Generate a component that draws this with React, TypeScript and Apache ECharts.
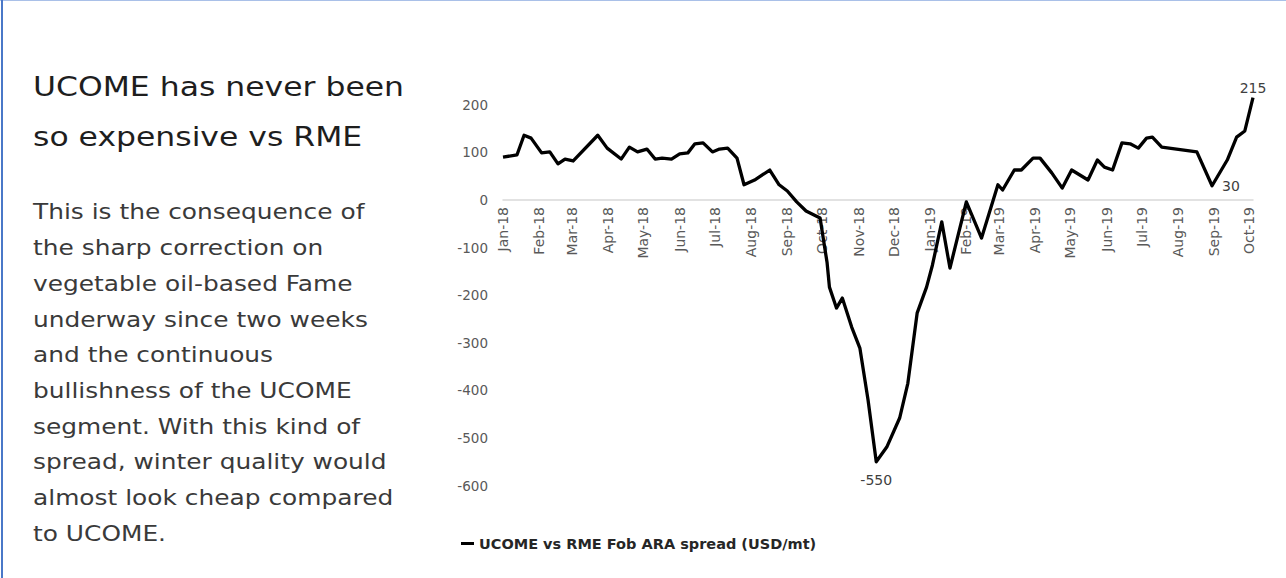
import React, { useEffect, useRef } from "react";
import * as echarts from "echarts";

// ---- data ----
const dates = [
  "2018-01-01", "2018-01-13", "2018-01-19", "2018-01-25", "2018-02-03", "2018-02-10", "2018-02-17", "2018-02-23",
  "2018-03-02", "2018-03-23", "2018-03-31", "2018-04-12", "2018-04-19", "2018-04-26", "2018-05-04", "2018-05-11",
  "2018-05-17", "2018-05-25", "2018-06-01", "2018-06-08", "2018-06-14", "2018-06-21", "2018-06-29", "2018-07-05",
  "2018-07-12", "2018-07-20", "2018-07-26", "2018-08-04", "2018-08-17", "2018-08-25", "2018-09-01", "2018-09-09",
  "2018-09-17", "2018-09-29", "2018-10-05", "2018-10-07", "2018-10-13", "2018-10-18", "2018-10-26", "2018-11-02",
  "2018-11-09", "2018-11-16", "2018-11-25", "2018-12-06", "2018-12-13", "2018-12-21", "2018-12-29", "2019-01-03",
  "2019-01-11", "2019-01-18", "2019-02-01", "2019-02-14", "2019-02-28", "2019-03-04", "2019-03-14", "2019-03-20",
  "2019-03-30", "2019-04-05", "2019-04-15", "2019-04-24", "2019-05-02", "2019-05-16", "2019-05-24", "2019-05-30",
  "2019-06-06", "2019-06-14", "2019-06-21", "2019-06-28", "2019-07-05", "2019-07-10", "2019-07-18", "2019-08-17",
  "2019-08-30", "2019-09-12", "2019-09-20", "2019-09-27", "2019-10-04",
];
const spread = [
  90, 95, 136, 130, 99, 101, 76, 86,
  82, 136, 109, 86, 111, 101, 107, 86,
  88, 86, 97, 99, 118, 120, 101, 107,
  109, 88, 32, 42, 63, 32, 19, -4,
  -23, -38, -132, -183, -227, -206, -267, -311,
  -420, -550, -519, -458, -385, -237, -183, -137,
  -46, -143, -4, -80, 32, 21, 63, 63,
  88, 88, 57, 25, 63, 42, 84, 69,
  63, 120, 118, 109, 130, 132, 111, 101,
  30, 84, 132, 145, 215,
];
// labelled points: date -> label position
const labelled: Record<string, string> = {
  "2018-11-16": "bottom",
  "2019-08-30": "right",
  "2019-10-04": "top",
};
const monthStarts = [
  "2018-01-01", "2018-02-01", "2018-03-01", "2018-04-01", "2018-05-01", "2018-06-01", "2018-07-01", "2018-08-01",
  "2018-09-01", "2018-10-01", "2018-11-01", "2018-12-01", "2019-01-01", "2019-02-01", "2019-03-01", "2019-04-01",
  "2019-05-01", "2019-06-01", "2019-07-01", "2019-08-01", "2019-09-01", "2019-10-01",
];
const monthLabels = [
  "Jan-18", "Feb-18", "Mar-18", "Apr-18", "May-18", "Jun-18", "Jul-18", "Aug-18",
  "Sep-18", "Oct-18", "Nov-18", "Dec-18", "Jan-19", "Feb-19", "Mar-19", "Apr-19",
  "May-19", "Jun-19", "Jul-19", "Aug-19", "Sep-19", "Oct-19",
];
const yTicks = { min: -600, max: 250, interval: 100 };
const seriesName = "UCOME vs RME Fob ARA spread (USD/mt)";
const titleLines = ["UCOME has never been", "so expensive vs RME"];
const bodyLines = [
  "This is the consequence of",
  "the sharp correction on",
  "vegetable oil-based Fame",
  "underway since two weeks",
  "and the continuous",
  "bullishness of the UCOME",
  "segment. With this kind of",
  "spread, winter quality would",
  "almost look cheap compared",
  "to UCOME.",
];

function ts(s: string): number {
  const [y, m, d] = s.split("-").map(Number);
  return new Date(y, m - 1, d).getTime();
}

const FONT = "DejaVu Sans";
const GRID_TOP = 81;
const GRID_BOTTOM = 92.4;
const H = 578;

export default function App() {
  const ref = useRef<HTMLDivElement>(null);
  useEffect(() => {
    if (!ref.current) return;
    const chart = echarts.init(ref.current, undefined, { renderer: "svg" });
    const tickTs = monthStarts.map(ts);
    const data = dates.map((d, i) => {
      const pos = labelled[d];
      const item: any = { value: [ts(d), spread[i]] };
      if (pos) {
        item.label = {
          show: true,
          position: pos,
          distance: pos === "bottom" ? 11 : pos === "right" ? 10 : 3,
          formatter: String(spread[i]),
          fontSize: 14,
          fontFamily: FONT,
          color: "#404040",
        };
      }
      return item;
    });
    // pixel position of zero on the y axis, to place the category axis there
    const plotH = H - GRID_TOP - GRID_BOTTOM;
    const zeroY = GRID_TOP + (plotH * (yTicks.max - 0)) / (yTicks.max - yTicks.min);
    const xAxisOffset = -(H - GRID_BOTTOM - zeroY);

    const graphics: any[] = [
      { type: "rect", shape: { x: 0, y: 0, width: 1286, height: 1 }, style: { fill: "#a9c0e8" }, silent: true },
      { type: "rect", shape: { x: 1, y: 0, width: 2, height: 578 }, style: { fill: "#4a78c8" }, silent: true },
    ];
    titleLines.forEach((t, i) => {
      graphics.push({
        type: "text",
        x: 33,
        y: 87 + i * 50,
        scaleX: 1.21,
        style: { text: t, fontSize: 26, fontFamily: FONT, fill: "#1e1e1e", verticalAlign: "middle", align: "left" },
      });
    });
    bodyLines.forEach((t, i) => {
      graphics.push({
        type: "text",
        x: 33,
        y: 212 + i * 35.7,
        scaleX: 1.13,
        style: { text: t, fontSize: 22, fontFamily: FONT, fill: "#3a3a3a", verticalAlign: "middle", align: "left" },
      });
    });
    chart.setOption({
      animation: false,
      backgroundColor: "#ffffff",
      textStyle: { fontFamily: FONT },
      grid: { left: 503, right: 33, top: GRID_TOP, bottom: GRID_BOTTOM, containLabel: false },
      legend: {
        left: 456,
        top: 531,
        itemWidth: 13,
        itemHeight: 3,
        icon: "rect",
        textStyle: { fontSize: 14.5, fontWeight: "bold", color: "#262626", fontFamily: FONT },
        data: [{ name: seriesName, icon: "rect", itemStyle: { color: "#000" } }],
      },
      xAxis: {
        type: "value",
        min: ts("2018-01-01"),
        max: ts("2019-10-04"),
        offset: xAxisOffset,
        axisLine: { onZero: false, lineStyle: { color: "#d9d9d9", width: 1.5 } },
        axisTick: { show: false },
        splitLine: { show: false },
        axisLabel: {
          rotate: 90,
          customValues: tickTs,
          fontSize: 14,
          color: "#595959",
          fontFamily: FONT,
          margin: 7,
          hideOverlap: false,
          formatter: (v: number) => {
            const k = tickTs.indexOf(v);
            return k >= 0 ? monthLabels[k] : "";
          },
        },
      },
      yAxis: {
        type: "value",
        min: yTicks.min,
        max: yTicks.max,
        interval: yTicks.interval,
        axisLine: { show: false },
        axisTick: { show: false },
        splitLine: { show: false },
        axisLabel: { showMaxLabel: false, fontSize: 13.5, color: "#595959", fontFamily: FONT, margin: 15 },
      },
      series: [
        {
          name: seriesName,
          type: "line",
          data,
          showSymbol: true,
          symbol: "circle",
          symbolSize: 0,
          itemStyle: { color: "#000" },
          lineStyle: { color: "#000", width: 3.3, join: "round" },
          label: { show: false },
          z: 3,
        },
      ],
      graphic: graphics,
    });
    return () => chart.dispose();
  }, []);
  return (
    <div
      ref={ref}
      style={{ position: "fixed", left: 0, top: 0, width: 1286, height: 578, background: "#fff" }}
    />
  );
}
